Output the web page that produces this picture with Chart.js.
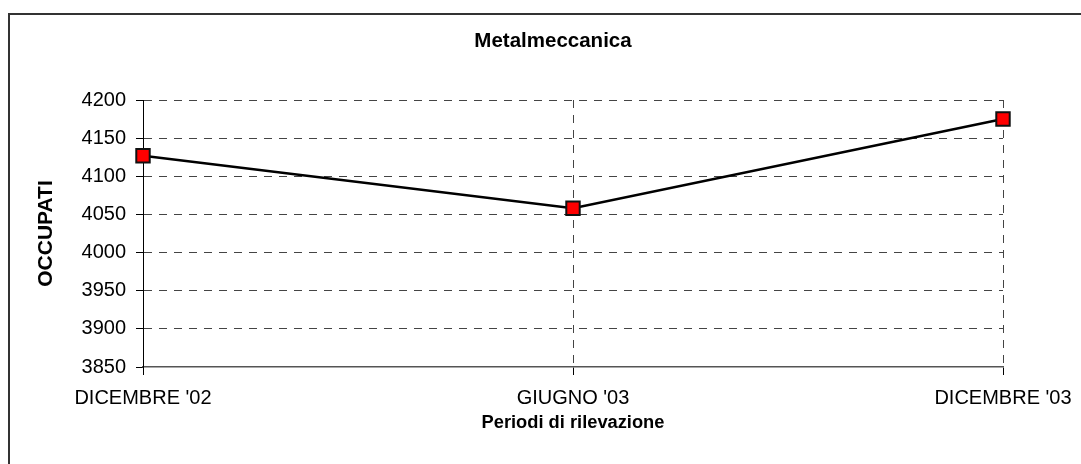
<!DOCTYPE html>
<html>
<head>
<meta charset="utf-8">
<script src="https://cdn.jsdelivr.net/npm/chart.js@4"></script>
<style>
  html, body { margin: 0; padding: 0; background: #fff; overflow: hidden; }
  canvas { display: block; }
</style>
</head>
<body>
<canvas id="chart" width="1086" height="464"></canvas>
<script>
const periods = ["DICEMBRE '02", "GIUGNO '03", "DICEMBRE '03"];
const occupati = [4127, 4058, 4175];
const yMin = 3850;
const yMax = 4200;
const yStep = 50;

const FONT = '"Liberation Sans", Arial, sans-serif';
const GRID = '#444';

// frame round the chart (only left and top edges fall inside the picture)
const framePlugin = {
  id: 'frame',
  beforeDraw(chart) {
    const { ctx } = chart;
    ctx.save();
    ctx.strokeStyle = '#333';
    ctx.lineWidth = 2;
    ctx.strokeRect(9, 14, chart.width, chart.height);
    ctx.restore();
  }
};

new Chart(document.getElementById('chart'), {
  type: 'line',
  data: {
    labels: periods,
    datasets: [{
      data: occupati,
      borderColor: '#000',
      borderWidth: 2.5,
      pointStyle: 'rect',
      pointRadius: 9.5,
      pointHoverRadius: 9.5,
      pointBackgroundColor: '#ff0000',
      pointBorderColor: '#111',
      pointBorderWidth: 2,
      clip: false
    }]
  },
  options: {
    responsive: false,
    animation: false,
    layout: { padding: { left: 20, right: 0, top: 0, bottom: 0 } },
    plugins: {
      legend: { display: false },
      tooltip: { enabled: false },
      title: {
        display: true,
        text: 'Metalmeccanica',
        color: '#000',
        font: { family: FONT, size: 20.5, weight: 'bold' },
        padding: { top: 28.7, bottom: 46.7 }
      }
    },
    scales: {
      x: {
        offset: false,
        afterFit(s) { s.height = 97; },
        grid: {
          color: c => c.index === 0 ? 'rgba(0,0,0,0)' : GRID,
          tickColor: '#000',
          tickLength: 8,
          tickBorderDash: []
        },
        border: { color: '#555', width: 1.5, dash: [8, 7] },
        ticks: {
          color: '#000',
          padding: 11,
          maxRotation: 0,
          font: { family: FONT, size: 20 }
        },
        title: {
          display: true,
          text: 'Periodi di rilevazione',
          color: '#000',
          font: { family: FONT, size: 18.3, weight: 'bold' },
          padding: { top: 0, bottom: 30 }
        }
      },
      y: {
        min: yMin,
        max: yMax,
        afterFit(s) { s.width = 123; },
        grid: {
          color: c => c.index === 0 ? 'rgba(0,0,0,0)' : GRID,
          tickColor: '#000',
          tickLength: 7,
          tickBorderDash: []
        },
        border: { color: '#000', width: 1, dash: [8, 7] },
        ticks: {
          stepSize: yStep,
          color: '#000',
          padding: 10,
          font: { family: FONT, size: 20 },
          callback: v => String(v)
        },
        title: {
          display: true,
          text: 'OCCUPATI',
          color: '#000',
          font: { family: FONT, size: 21, weight: 'bold' },
          padding: { top: 13.4, bottom: 0 }
        }
      },
      spacer: {
        type: 'linear',
        position: 'right',
        afterFit(s) { s.width = 83; },
        grid: { display: false },
        border: { display: false },
        ticks: { display: false }
      }
    }
  },
  plugins: [framePlugin]
});
</script>
</body>
</html>
